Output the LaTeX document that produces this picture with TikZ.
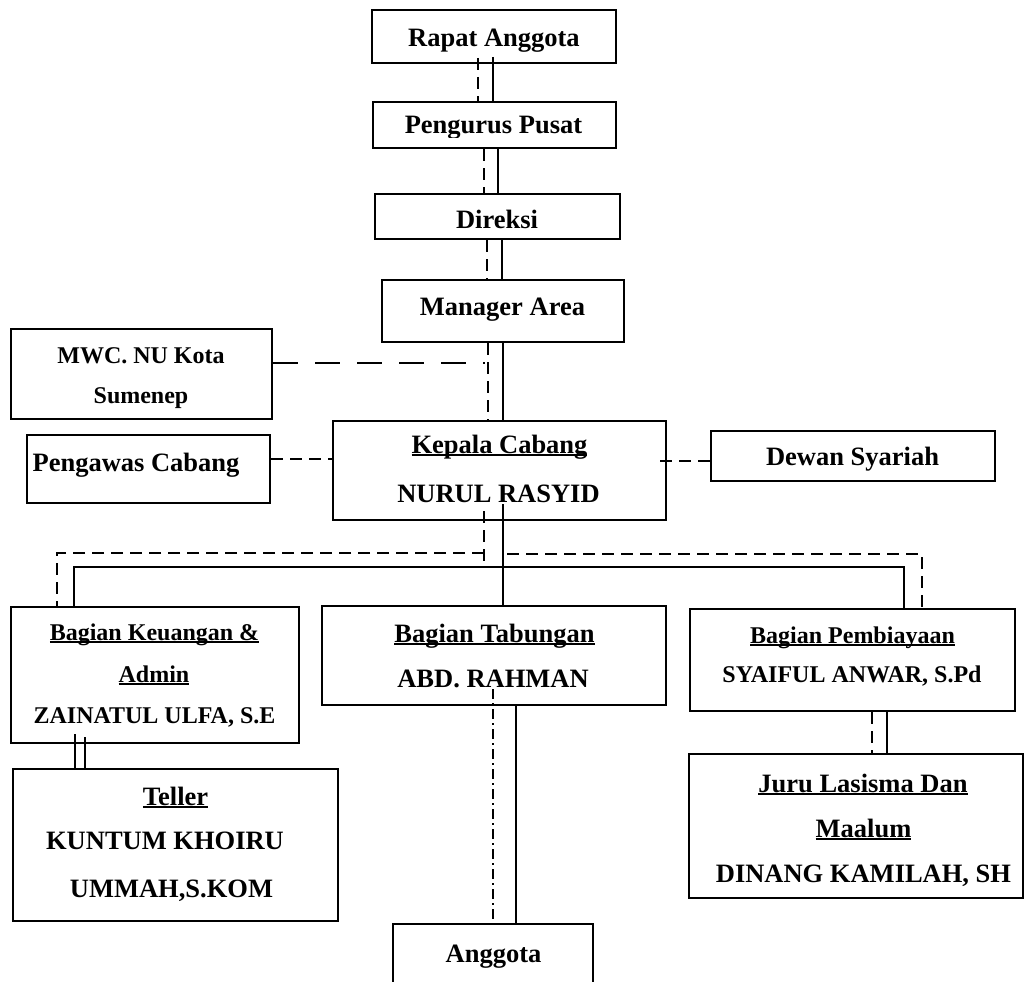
\documentclass[tikz,border=0pt]{standalone}
\usepackage{fontspec}
\setmainfont{Liberation Serif}
\newlength\ulw
\newcommand\ulx[1]{\settowidth\ulw{#1}\rlap{\rule[-3pt]{\ulw}{2pt}}#1}
\begin{document}
\begin{tikzpicture}[x=1pt,y=-1pt,
 box/.style={draw, line width=2pt, inner sep=0pt, rectangle},
 txt/.style={inner sep=0pt, anchor=base, font=\bfseries\fontsize{26.5}{30}\selectfont},
 txs/.style={inner sep=0pt, anchor=base, font=\bfseries\fontsize{24}{28}\selectfont},
 ln/.style={line width=1.8pt},
 dsh/.style={line width=1.8pt, dash pattern=on 12pt off 7pt},
 ldsh/.style={line width=1.8pt, dash pattern=on 25pt off 17pt},
 ddot/.style={line width=1.8pt, dash pattern=on 10pt off 4pt on 2pt off 4pt}]
\useasboundingbox (0,0) rectangle (1028,982);
\clip (0,0) rectangle (1028,982);

% boxes
\node[box, minimum width=244pt, minimum height=53pt] (rapat) at (494,36.5) {};
\node[box, minimum width=243pt, minimum height=46pt] (pengurus) at (494.5,125) {};
\node[box, minimum width=245pt, minimum height=45pt] (direksi) at (497.5,216.5) {};
\node[box, minimum width=242pt, minimum height=62pt] (manager) at (503,311) {};
\node[box, minimum width=261pt, minimum height=90pt] (mwc) at (141.5,374) {};
\node[box, minimum width=243pt, minimum height=68pt] (pengawas) at (148.5,469) {};
\node[box, minimum width=333pt, minimum height=99pt] (kepala) at (499.5,470.5) {};
\node[box, minimum width=284pt, minimum height=50pt] (dewan) at (853,456) {};
\node[box, minimum width=288pt, minimum height=136pt] (keuangan) at (155,675) {};
\node[box, minimum width=344pt, minimum height=99pt] (tabungan) at (494,655.5) {};
\node[box, minimum width=325pt, minimum height=102pt] (pembiayaan) at (852.5,660) {};
\node[box, minimum width=325pt, minimum height=152pt] (teller) at (175.5,845) {};
\node[box, minimum width=334pt, minimum height=144pt] (juru) at (856,826) {};
\node[box, minimum width=200pt, minimum height=80pt] (anggota) at (493,964) {};

% texts
\node[txt] (trapat) at (494,47) {Rapat Anggota};
\begin{scope}
\clip (373,102) rectangle (616,137);
\node[txt] (tpengurus) at (493.5,133) {Pengurus Pusat};
\end{scope}
\node[txt] (tdireksi) at (497,228) {Direksi};
\node[txt] (tmanager) at (502.5,315) {Manager Area};
\node[txs] (tmwc1) at (141,363) {MWC. NU Kota};
\node[txs] (tmwc2) at (141,403) {Sumenep};
\node[txt] (tpengawas) at (136,471) {Pengawas Cabang};
\node[txt] (tkepala1) at (499.5,453) {\ulx{Kepala Cabang}};
\node[txt] (tkepala2) at (498.5,502) {NURUL RASYID};
\node[txt] (tdewan) at (852.5,465) {Dewan Syariah};
\node[txs] (tkeu1) at (154.5,640) {\ulx{Bagian Keuangan \&}};
\node[txs] (tkeu2) at (154,682) {\ulx{Admin}};
\node[txs] (tkeu3) at (154.5,723) {ZAINATUL ULFA, S.E};
\node[txt] (ttab1) at (494.5,642) {\ulx{Bagian Tabungan}};
\node[txt] (ttab2) at (493,687) {ABD. RAHMAN};
\node[txs] (tpem1) at (852.5,643) {\ulx{Bagian Pembiayaan}};
\node[txs] (tpem2) at (852,682) {SYAIFUL ANWAR, S.Pd};
\node[txt] (ttel1) at (175.5,805) {\ulx{Teller}};
\node[txt] (ttel2) at (165,849) {KUNTUM KHOIRU};
\node[txt] (ttel3) at (171.5,897) {UMMAH,S.KOM};
\node[txt] (tjuru1) at (863,792) {\ulx{Juru Lasisma Dan}};
\node[txt] (tjuru2) at (863.5,837) {\ulx{Maalum}};
\node[txt] (tjuru3) at (863.5,882) {DINANG KAMILAH, SH};
\node[txt] (tanggota) at (493.5,962) {Anggota};

% helper coordinates
\coordinate (mwcend) at (485,363);
\coordinate (dl) at (57,553);
\coordinate (drs) at (507,554);
\coordinate (dr) at (922,554);
\coordinate (sl) at (74,567);
\coordinate (sr) at (904,567);

% vertical chain
\draw[dsh] ([xshift=-16pt,yshift=6pt]rapat.south) -- ([xshift=-16.5pt]pengurus.north);
\draw[ln] ([xshift=-1pt,yshift=7pt]rapat.south) -- ([xshift=-1.5pt]pengurus.north);
\draw[dsh] ([xshift=-10.5pt]pengurus.south) -- ([xshift=-13.5pt]direksi.north);
\draw[ln] ([xshift=3.5pt]pengurus.south) -- ([xshift=0.5pt]direksi.north);
\draw[dsh] ([xshift=-10.5pt]direksi.south) -- ([xshift=-16pt]manager.north);
\draw[ln] ([xshift=4.5pt]direksi.south) -- ([xshift=-1pt]manager.north);
\draw[dsh] ([xshift=-15pt]manager.south) -- ([xshift=-11.5pt]kepala.north);
\draw[ln] (manager.south) -- ([xshift=3.5pt]kepala.north);

% side links
\draw[ldsh] ([yshift=11pt]mwc.east) -- (mwcend);
\draw[dsh] ([yshift=10pt]pengawas.east) -- ([yshift=11.5pt]kepala.west);
\draw[dsh] ([xshift=-7pt,yshift=9.5pt]kepala.east) -- ([yshift=-5pt]dewan.west);

% branch to departments
\draw[dsh] ([xshift=-15.5pt,yshift=10pt]kepala.south) -- ++(0,56);
\draw[dsh] (dl -| kepala.south) ++(-15.5,0) -- (dl) -- (dl |- keuangan.north);
\draw[dsh] (drs) -- (dr) -- (dr |- pembiayaan.north);
\draw[ln] ([xshift=3.5pt,yshift=17pt]kepala.south) -- ([xshift=9pt]tabungan.north);
\draw[ln] (sl |- keuangan.north) -- (sl) -- (sr) -- (sr |- pembiayaan.north);

% lower links
\draw[ln] ([xshift=-80pt,yshift=10pt]keuangan.south) -- ([xshift=-100.5pt]teller.north);
\draw[ln] ([xshift=-70pt,yshift=7pt]keuangan.south) -- ([xshift=-90.5pt]teller.north);
\draw[ddot] ([xshift=-1pt,yshift=17pt]tabungan.south) -- (anggota.north);
\draw[ln] ([xshift=22pt]tabungan.south) -- ([xshift=23pt]anggota.north);
\draw[dsh] ([xshift=19.5pt]pembiayaan.south) -- ([xshift=16pt]juru.north);
\draw[ln] ([xshift=34.5pt]pembiayaan.south) -- ([xshift=31pt]juru.north);
\end{tikzpicture}
\end{document}
